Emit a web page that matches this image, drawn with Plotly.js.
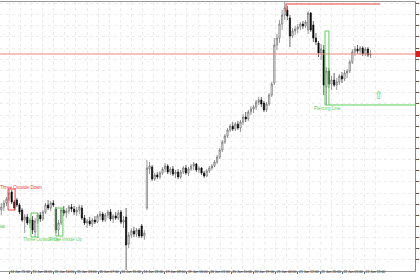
<!DOCTYPE html>
<html><head><meta charset="utf-8">
<script src="https://cdn.plot.ly/plotly-3.0.1.min.js"></script>
<style>html,body{margin:0;padding:0;background:#fff;overflow:hidden}#chart{width:420px;height:280px}</style>
</head><body><div id="chart"></div>
<script>
const barOpen  = [0.8090,0.8093,0.8097,0.8101,0.8108,0.8098,0.8100,0.8095,0.8090,0.8080,0.8083,0.8077,0.8080,0.8068,0.8079,0.8085,0.8081,0.8088,0.8095,0.8092,
0.8097,0.8091,0.8070,0.8077,0.8090,0.8087,0.8089,0.8093,0.8091,0.8088,0.8090,0.8092,0.8082,0.8077,0.8079,0.8076,0.8080,0.8078,0.8084,0.8086,
0.8080,0.8085,0.8088,0.8081,0.8084,0.8082,0.8088,0.8078,0.8083,0.8056,0.8065,0.8069,0.8066,0.8070,0.8074,0.8064,0.8092,0.8131,0.8133,0.8121,
0.8125,0.8123,0.8127,0.8131,0.8134,0.8128,0.8131,0.8126,0.8128,0.8123,0.8128,0.8132,0.8127,0.8131,0.8134,0.8136,0.8130,0.8132,0.8127,0.8124,
0.8129,0.8132,0.8134,0.8138,0.8143,0.8150,0.8158,0.8164,0.8170,0.8174,0.8171,0.8176,0.8172,0.8178,0.8183,0.8181,0.8188,0.8191,0.8193,0.8198,
0.8200,0.8197,0.8190,0.8196,0.8205,0.8217,0.8255,0.8262,0.8276,0.8285,0.8290,0.8282,0.8264,0.8269,0.8271,0.8273,0.8276,0.8274,0.8270,0.8287,
0.8275,0.8262,0.8257,0.8247,0.8250,0.8213,0.8229,0.8216,0.8220,0.8215,0.8218,0.8224,0.8221,0.8227,0.8229,0.8238,0.8248,0.8251,0.8249,0.8252,
0.8246,0.8251,0.8245];
const barHigh  = [0.8097,0.8100,0.8103,0.8111,0.8110,0.8100,0.8102,0.8097,0.8092,0.8086,0.8086,0.8082,0.8084,0.8082,0.8087,0.8088,0.8090,0.8097,0.8100,0.8099,
0.8100,0.8093,0.8080,0.8092,0.8094,0.8092,0.8095,0.8096,0.8094,0.8093,0.8095,0.8095,0.8085,0.8081,0.8083,0.8082,0.8084,0.8086,0.8089,0.8088,
0.8087,0.8090,0.8091,0.8086,0.8088,0.8090,0.8090,0.8084,0.8092,0.8068,0.8072,0.8073,0.8072,0.8072,0.8076,0.8070,0.8140,0.8138,0.8135,0.8127,
0.8128,0.8129,0.8133,0.8137,0.8136,0.8133,0.8134,0.8130,0.8131,0.8130,0.8134,0.8135,0.8133,0.8136,0.8138,0.8137,0.8134,0.8133,0.8129,0.8131,
0.8134,0.8136,0.8140,0.8145,0.8152,0.8160,0.8166,0.8172,0.8176,0.8178,0.8178,0.8179,0.8180,0.8186,0.8188,0.8190,0.8194,0.8195,0.8200,0.8203,
0.8203,0.8199,0.8198,0.8207,0.8218,0.8262,0.8266,0.8280,0.8290,0.8298,0.8294,0.8285,0.8272,0.8274,0.8276,0.8278,0.8279,0.8280,0.8289,0.8288,
0.8279,0.8267,0.8259,0.8256,0.8255,0.8233,0.8232,0.8224,0.8227,0.8222,0.8226,0.8228,0.8230,0.8231,0.8240,0.8251,0.8254,0.8255,0.8254,0.8254,
0.8253,0.8253,0.8250];
const barLow   = [0.8085,0.8089,0.8094,0.8099,0.8096,0.8090,0.8093,0.8086,0.8078,0.8067,0.8075,0.8072,0.8066,0.8063,0.8076,0.8078,0.8079,0.8086,0.8090,0.8089,
0.8093,0.8067,0.8064,0.8075,0.8084,0.8082,0.8086,0.8088,0.8085,0.8084,0.8086,0.8080,0.8075,0.8072,0.8074,0.8073,0.8076,0.8077,0.8080,0.8078,
0.8078,0.8082,0.8079,0.8077,0.8080,0.8080,0.8076,0.8072,0.8030,0.8052,0.8062,0.8063,0.8063,0.8062,0.8062,0.8060,0.8090,0.8126,0.8119,0.8119,
0.8121,0.8121,0.8125,0.8128,0.8126,0.8125,0.8124,0.8122,0.8121,0.8121,0.8126,0.8125,0.8124,0.8129,0.8130,0.8128,0.8127,0.8125,0.8122,0.8123,
0.8127,0.8130,0.8133,0.8136,0.8141,0.8148,0.8156,0.8162,0.8168,0.8169,0.8169,0.8170,0.8168,0.8175,0.8178,0.8179,0.8185,0.8187,0.8190,0.8195,
0.8193,0.8188,0.8188,0.8194,0.8203,0.8215,0.8250,0.8257,0.8270,0.8280,0.8280,0.8253,0.8262,0.8265,0.8267,0.8270,0.8271,0.8272,0.8266,0.8268,
0.8258,0.8255,0.8243,0.8240,0.8205,0.8195,0.8212,0.8210,0.8213,0.8210,0.8215,0.8217,0.8219,0.8222,0.8227,0.8236,0.8244,0.8246,0.8245,0.8244,
0.8244,0.8243,0.8242];
const barClose = [0.8093,0.8097,0.8101,0.8107,0.8098,0.8092,0.8095,0.8088,0.8080,0.8083,0.8077,0.8080,0.8070,0.8079,0.8085,0.8081,0.8088,0.8095,0.8092,0.8097,
0.8095,0.8070,0.8077,0.8090,0.8087,0.8089,0.8093,0.8091,0.8088,0.8090,0.8093,0.8082,0.8077,0.8079,0.8076,0.8080,0.8078,0.8084,0.8086,0.8080,
0.8085,0.8088,0.8081,0.8084,0.8082,0.8087,0.8078,0.8080,0.8055,0.8065,0.8069,0.8066,0.8070,0.8064,0.8064,0.8067,0.8132,0.8134,0.8121,0.8125,
0.8123,0.8127,0.8131,0.8134,0.8128,0.8131,0.8126,0.8128,0.8123,0.8128,0.8132,0.8127,0.8131,0.8134,0.8136,0.8130,0.8132,0.8127,0.8124,0.8129,
0.8132,0.8134,0.8138,0.8143,0.8150,0.8158,0.8164,0.8170,0.8174,0.8171,0.8176,0.8172,0.8178,0.8183,0.8181,0.8188,0.8191,0.8193,0.8198,0.8200,
0.8196,0.8190,0.8196,0.8205,0.8216,0.8255,0.8262,0.8276,0.8285,0.8292,0.8284,0.8264,0.8269,0.8271,0.8273,0.8276,0.8274,0.8278,0.8287,0.8270,
0.8262,0.8258,0.8247,0.8251,0.8215,0.8229,0.8216,0.8220,0.8215,0.8218,0.8224,0.8221,0.8227,0.8229,0.8238,0.8248,0.8251,0.8249,0.8252,0.8246,
0.8251,0.8245,0.8246];
const timeLabels = ["14 Jan 21:00","15 Jan 06:00","15 Jan 14:00","15 Jan 23:00","16 Jan 07:00","16 Jan 15:00","16 Jan 23:00","19 Jan 08:00","19 Jan 16:00",
"20 Jan 01:00","20 Jan 10:00","20 Jan 19:00","21 Jan 04:00","21 Jan 12:00","21 Jan 20:00","22 Jan 05:00","22 Jan 13:00"];
const patternNames = ["Three Outside Down","Morning Star","Three Outside Up","Three Inside Up","Piercing Line","Bearish Engulfing"];

const barIndex = barOpen.map((_, i) => i);
const firstLabelBar = 3.08, barsPerLabel = 8.54;
const labelPos = timeLabels.map((_, k) => firstLabelBar + barsPerLabel * k);
const minorPos = timeLabels.map((_, k) => firstLabelBar + barsPerLabel * (k + 0.5));
const yTop = 0.8298, yBot = 0.8029, yStep = 0.001115;
const yTicks = []; for (let v = 0.82965; v > yBot; v -= yStep) yTicks.push(v);
const lastClose = barClose[barClose.length - 1];

const green = '#5dcf5d', red = '#ee4040';
const trace = {
  type: 'candlestick', x: barIndex, open: barOpen, high: barHigh, low: barLow, close: barClose,
  increasing: {line: {color: '#555', width: 0.6}, fillcolor: '#ffffff'},
  decreasing: {line: {color: '#000', width: 0.6}, fillcolor: '#000000'},
  whiskerwidth: 0, hoverinfo: 'skip', showlegend: false
};
const box = (x0, x1, y0, y1, c) => ({type: 'rect', xref: 'x', yref: 'y', x0, x1, y0, y1, line: {color: c, width: 1}});
const shapes = [
  {type: 'line', xref: 'paper', yref: 'y', x0: 0, x1: 1, y0: lastClose, y1: lastClose, line: {color: '#f08080', width: 1}},
  {type: 'rect', xref: 'paper', yref: 'y', x0: 1.002, x1: 1.03, y0: lastClose - 0.0003, y1: lastClose + 0.0003, fillcolor: '#d82020', line: {width: 0}},
  box(2.6, 5.3, 0.8090, 0.8111, red),
  box(11.4, 14.1, 0.8063, 0.8087, green),
  box(21.0, 23.7, 0.8064, 0.8092, green),
  box(124.5, 126.0, 0.8195, 0.8269, green),
  {type: 'line', xref: 'x', yref: 'y', x0: 126.0, x1: 159.1, y0: 0.8195, y1: 0.8195, line: {color: green, width: 1}},
  {type: 'line', xref: 'x', yref: 'y', x0: 109.5, x1: 145.7, y0: 0.8296, y1: 0.8296, line: {color: red, width: 1}},
  {type: 'line', xref: 'x', yref: 'y', x0: 109.5, x1: 109.5, y0: 0.8296, y1: 0.8288, line: {color: red, width: 1}}
];
const ann = (text, x, y, c, xa) => ({text, x, y, xref: 'x', yref: 'y', showarrow: false, xanchor: xa || 'center', yanchor: 'middle',
  font: {family: 'Liberation Sans, Arial, sans-serif', size: 4.6, color: c}});
const annotations = [
  ann(patternNames[0], 7.6, 0.81125, red),
  ann(patternNames[1], 2.6, 0.8074, green, 'right'),
  ann(patternNames[2], 15.5, 0.80605, green),
  ann(patternNames[3], 24.7, 0.80605, green),
  ann(patternNames[4], 125.5, 0.81915, green),
  ann(patternNames[5], 111, 0.82985, red),
  {text: '⇧', x: 144.9, y: 0.8205, xref: 'x', yref: 'y', showarrow: false, font: {family: 'DejaVu Sans', size: 11, color: green}}
];
const layout = {
  width: 420, height: 280, margin: {l: 0, r: 5, t: 2, b: 9},
  paper_bgcolor: '#ffffff', plot_bgcolor: '#ffffff', showlegend: false,
  xaxis: {type: 'linear', range: [-0.5, 159.1], rangeslider: {visible: false}, fixedrange: true,
    tickvals: labelPos, ticktext: timeLabels, ticks: 'outside', ticklen: 2, tickcolor: '#666', tickangle: 0,
    ticklabelposition: 'outside right', ticklabelstandoff: -3,
    tickfont: {family: 'Liberation Sans, Arial', size: 3.4, color: '#222'},
    showgrid: true, gridcolor: '#ececec', griddash: 'dot', gridwidth: 1,
    minor: {tickvals: minorPos, showgrid: true, gridcolor: '#ececec', griddash: 'dot', ticks: ''},
    showline: true, mirror: true, linecolor: '#999', linewidth: 1, zeroline: false},
  yaxis: {side: 'right', range: [yBot, yTop], fixedrange: true, tickvals: yTicks, tickformat: '.4f',
    ticks: 'outside', ticklen: 3, tickcolor: '#555', tickfont: {family: 'Liberation Sans, Arial', size: 4, color: '#222'},
    showgrid: true, gridcolor: '#ececec', griddash: 'dot', gridwidth: 1,
    showline: true, linecolor: '#888', linewidth: 1, zeroline: false},
  shapes, annotations
};
Plotly.newPlot('chart', [trace], layout, {staticPlot: true, displayModeBar: false});
</script></body></html>
